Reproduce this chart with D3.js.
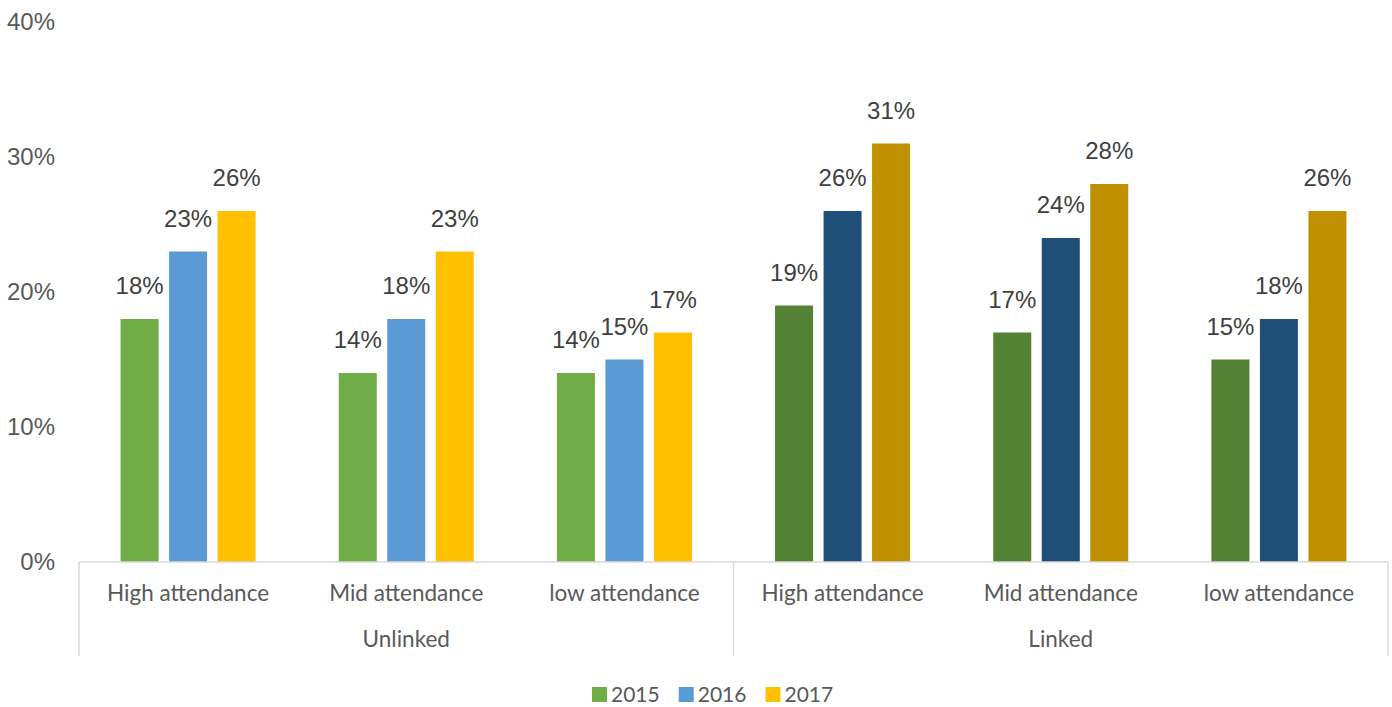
<!DOCTYPE html>
<html>
<head>
<meta charset="utf-8">
<script src="https://cdn.jsdelivr.net/npm/d3@7"></script>
<style>
  html, body { margin: 0; padding: 0; background: #fff; }
  svg { display: block; }
</style>
</head>
<body>
<svg id="chart" width="1392" height="707"></svg>
<script>
// Share of pupils by attendance band, split by linked / unlinked records
const years = ["2015", "2016", "2017"];
const groups = ["Unlinked", "Linked"];
const bands = ["High attendance", "Mid attendance", "low attendance"];
const unlinkedValues = [
  [18, 23, 26],
  [14, 18, 23],
  [14, 15, 17]
];
const linkedValues = [
  [19, 26, 31],
  [17, 24, 28],
  [15, 18, 26]
];
const yTicks = [0, 10, 20, 30, 40];
const unlinkedColors = ["#70ad47", "#5b9bd5", "#ffc000"];
const linkedColors = ["#548235", "#1f4e79", "#bf9000"];

const svg = d3.select("#chart");
const plotLeft = 79, plotRight = 1388, plotTop = 22, plotBottom = 562;
const catFont = "Lato, sans-serif";

const rows = [];
groups.forEach((g, gi) => {
  const vals = gi === 0 ? unlinkedValues : linkedValues;
  bands.forEach((b, bi) => {
    rows.push({ key: g + "|" + b, group: g, gi, band: b, values: vals[bi] });
  });
});

const x0 = d3.scaleBand().domain(rows.map(r => r.key)).range([plotLeft, plotRight]).padding(0);
const x1 = d3.scaleBand().domain(years).range([0, x0.bandwidth()])
  .paddingInner(0.216).paddingOuter(0.857);
const y = d3.scaleLinear().domain([0, 40]).range([plotBottom, plotTop]);

// y tick labels
svg.append("g").selectAll("text").data(yTicks).join("text")
  .attr("x", 55).attr("y", d => y(d)).attr("dy", "0.35em")
  .attr("text-anchor", "end")
  .attr("font-family", "Liberation Sans, Arial, sans-serif")
  .attr("font-size", 24).attr("fill", "#595959")
  .text(d => d + "%");

// bars and value labels
const g = svg.append("g").selectAll("g").data(rows).join("g")
  .attr("transform", d => `translate(${x0(d.key)},0)`);

g.selectAll("rect").data(d => d.values.map((v, i) => ({ v, i, gi: d.gi }))).join("rect")
  .attr("x", d => x1(years[d.i]))
  .attr("width", x1.bandwidth())
  .attr("y", d => y(d.v))
  .attr("height", d => y(0) - y(d.v))
  .attr("fill", d => (d.gi === 0 ? unlinkedColors : linkedColors)[d.i]);

g.selectAll("text").data(d => d.values.map((v, i) => ({ v, i }))).join("text")
  .attr("x", d => x1(years[d.i]) + x1.bandwidth() / 2)
  .attr("y", d => y(d.v) - 25)
  .attr("text-anchor", "middle")
  .attr("font-family", "Liberation Sans, Arial, sans-serif")
  .attr("font-size", 24).attr("fill", "#404040")
  .text(d => d.v + "%");

// category axis
const axis = svg.append("g").attr("stroke", "#d9d9d9").attr("stroke-width", 1.5);
axis.append("line").attr("x1", plotLeft).attr("x2", plotRight).attr("y1", plotBottom).attr("y2", plotBottom);
const groupEdges = [plotLeft, x0(groups[1] + "|" + bands[0]), plotRight];
axis.selectAll("line.edge").data(groupEdges).join("line").attr("class", "edge")
  .attr("x1", d => d).attr("x2", d => d).attr("y1", plotBottom).attr("y2", 656);

svg.append("g").selectAll("text").data(rows).join("text")
  .attr("x", d => x0(d.key) + x0.bandwidth() / 2)
  .attr("y", 601)
  .attr("text-anchor", "middle")
  .attr("font-family", catFont)
  .attr("font-size", 22.5).attr("fill", "#595959")
  .text(d => d.band);

svg.append("g").selectAll("text").data(groups).join("text")
  .attr("x", (d, i) => (groupEdges[i] + groupEdges[i + 1]) / 2)
  .attr("y", 647)
  .attr("text-anchor", "middle")
  .attr("font-family", catFont)
  .attr("font-size", 22.5).attr("fill", "#595959")
  .text(d => d);

// legend: swatch + label, laid out left to right
const legend = svg.append("g").attr("transform", "translate(592,687)");
let cursor = 0;
years.forEach((yr, i) => {
  const item = legend.append("g").attr("transform", `translate(${cursor},0)`);
  item.append("rect").attr("width", 15).attr("height", 15).attr("fill", unlinkedColors[i]);
  const t = item.append("text").attr("x", 19).attr("y", 15)
    .attr("font-family", catFont)
    .attr("font-size", 21).attr("fill", "#595959")
    .text(yr);
  cursor += 19 + t.node().getComputedTextLength() + 19;
});
</script>
</body>
</html>
